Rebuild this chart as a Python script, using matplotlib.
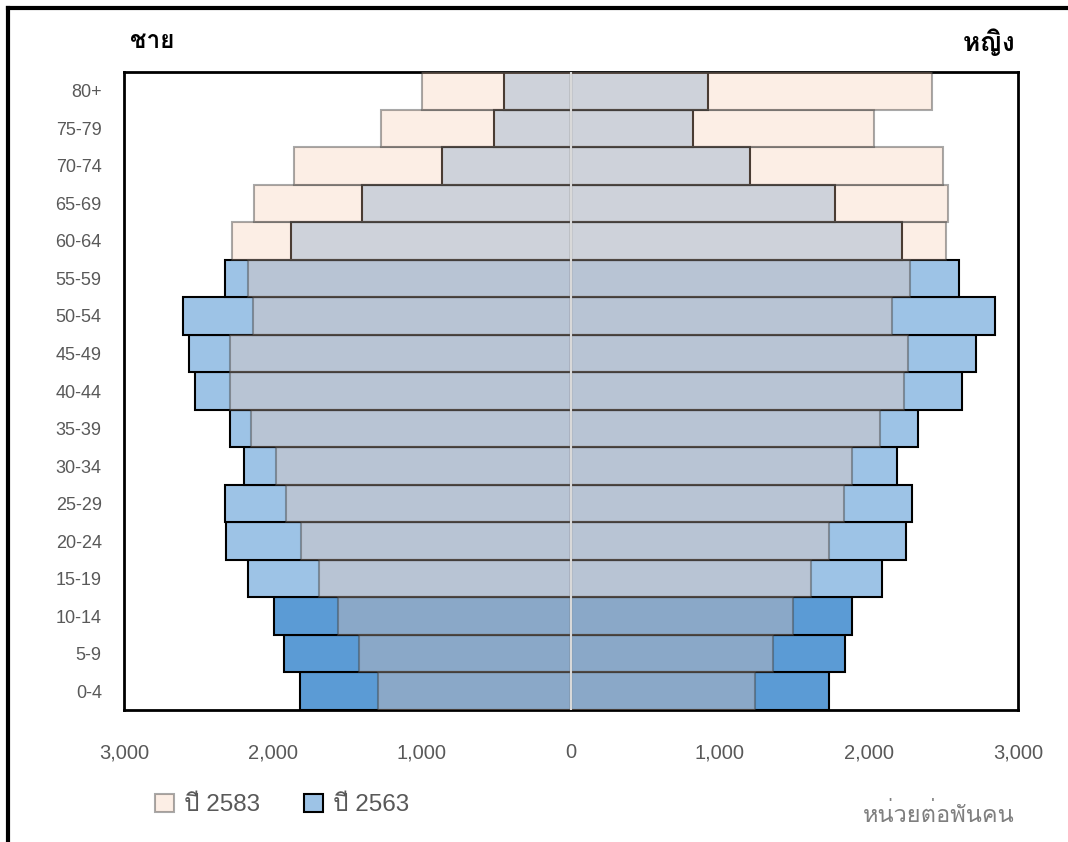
import numpy as np
import matplotlib
matplotlib.use("Agg")
import matplotlib.pyplot as plt
from matplotlib import font_manager
from matplotlib.ft2font import FT2Font
from matplotlib.patches import Patch
from matplotlib.lines import Line2D

# age groups, bottom to top
age_groups = ['0-4', '5-9', '10-14', '15-19', '20-24', '25-29', '30-34', '35-39',
              '40-44', '45-49', '50-54', '55-59', '60-64', '65-69', '70-74', '75-79', '80+']

# thousands of people
male_2563 = [1820, 1926, 1993, 2171, 2318, 2325, 2194, 2286, 2521, 2561, 2604, 2321, 1880, 1405, 865, 519, 450]
male_2583 = [1292, 1421, 1562, 1691, 1815, 1915, 1982, 2148, 2288, 2288, 2131, 2171, 2277, 2125, 1857, 1276, 1000]
female_2563 = [1732, 1838, 1889, 2085, 2247, 2291, 2189, 2332, 2627, 2720, 2847, 2604, 2224, 1772, 1202, 819, 920]
female_2583 = [1236, 1359, 1490, 1612, 1732, 1834, 1889, 2074, 2235, 2263, 2157, 2272, 2519, 2528, 2494, 2032, 2424]

x_ticks = [-3000, -2000, -1000, 0, 1000, 2000, 3000]


def thai_font():
    # first installed font that has Thai glyphs
    for f in font_manager.fontManager.ttflist:
        try:
            if ord('ช') in FT2Font(f.fname).get_charmap():
                return f.name
        except Exception:
            pass
    return None


families = ['Liberation Sans']
tf = thai_font()
if tf:
    families.append(tf)
families.append('DejaVu Sans')
plt.rcParams['font.family'] = families

# children / working age / elderly shades for 2563
colors_2563 = ['#5B9BD5'] * 3 + ['#9DC3E6'] * 9 + ['#BDD7EE'] * 5
face_2583 = (0.973, 0.784, 0.675, 0.3)
edge_2583 = (0.25, 0.25, 0.25, 0.45)

fig = plt.figure(figsize=(10.68, 8.42), dpi=100)
ax = fig.add_axes([124 / 1068, 1 - 710 / 842, 894 / 1068, 638 / 842])

y = np.arange(len(age_groups))
ax.barh(y, -np.array(male_2563), height=1.0, color=colors_2563, edgecolor='black', linewidth=1.5, zorder=2)
ax.barh(y, female_2563, height=1.0, color=colors_2563, edgecolor='black', linewidth=1.5, zorder=2)
ax.barh(y, -np.array(male_2583), height=1.0, facecolor=face_2583, edgecolor=edge_2583, linewidth=1.5, zorder=3)
ax.barh(y, female_2583, height=1.0, facecolor=face_2583, edgecolor=edge_2583, linewidth=1.5, zorder=3)
ax.axvline(0, color='#D9D9D9', linewidth=1.5, zorder=4)

ax.set_xlim(-3000, 3000)
ax.set_ylim(-0.5, len(age_groups) - 0.5)
ax.set_xticks(x_ticks)
ax.set_xticklabels([f'{abs(v):,}' for v in x_ticks])
ax.set_yticks(y)
ax.set_yticklabels(age_groups)
ax.tick_params(axis='both', length=0, labelcolor='#595959')
ax.tick_params(axis='x', pad=24, labelsize=14.5)
ax.tick_params(axis='y', pad=16, labelsize=13)
for s in ax.spines.values():
    s.set_linewidth(2)
    s.set_color('black')

fig.text(130 / 1068, 1 - 42 / 842, 'ชาย', fontsize=17.5, fontweight='bold', ha='left', va='center')
fig.text(1015 / 1068, 1 - 42 / 842, 'หญิง', fontsize=19, fontweight='bold', ha='right', va='center')
fig.text(1015 / 1068, 1 - 815 / 842, 'หน่วยต่อพันคน', fontsize=17, color='#7F7F7F', ha='right', va='center')

handles = [Patch(facecolor=face_2583, edgecolor=edge_2583, linewidth=1.5),
           Patch(facecolor='#9DC3E6', edgecolor='black', linewidth=1.5)]
fig.legend(handles, ['ปี 2583', 'ปี 2563'], loc='center left', bbox_to_anchor=(133 / 1068, 1 - 805 / 842),
           ncol=2, frameon=False, fontsize=17.5, labelcolor='#595959', handlelength=0.8, handleheight=0.8,
           handletextpad=0.4, columnspacing=1.8)

# outer frame (left and top edges)
fig.add_artist(Line2D([8 / 1068, 8 / 1068], [0, 1 - 8 / 842], color='black', linewidth=3))
fig.add_artist(Line2D([8 / 1068, 1], [1 - 8 / 842, 1 - 8 / 842], color='black', linewidth=3))

fig.savefig('out.png', dpi=100)
